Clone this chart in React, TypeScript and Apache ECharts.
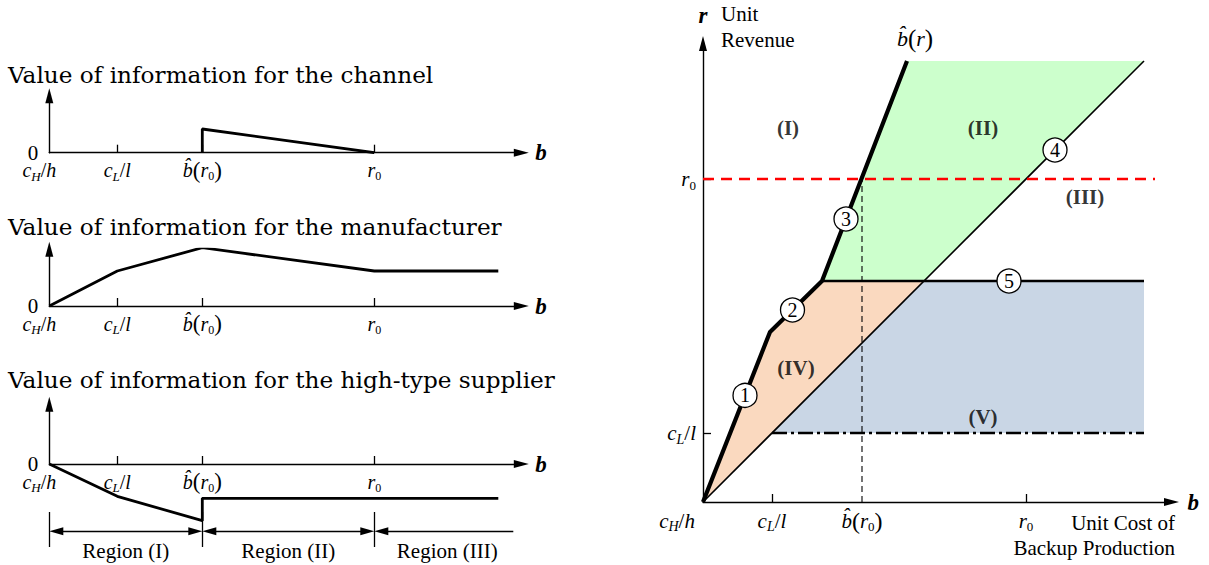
import React, { useEffect, useRef } from "react";
import * as echarts from "echarts";

const SERIF = "'Liberation Serif', 'Times New Roman', serif";
const TITLE_SERIF = "'DejaVu Serif', serif";

// ---------- shared label markup ----------
const CH_H = "{i|c}{s|H}{n|/}{i|h}";
const CL_L = "{i|c}{s|L}{n|/}{i|l}";
const BHAT_R0 = "{i|b\u0302}{p|(}{i|r}{z|0}{p|)}";
const R_0 = "{i|r}{z|0}";
const BHAT_R = "{i|b\u0302}{p|(}{i|r}{p|)}";

// ---------- left panels ----------
const PANEL_TITLES = [
  "Value of information for the channel",
  "Value of information for the manufacturer",
  "Value of information for the high-type supplier",
];
const LEFT_TICK_VALUES = [0, 6.8, 15.3, 32.5];
const LEFT_TICK_MARKS = [6.8, 15.3, 32.5];
const LEFT_TICK_LABELS = [CH_H, CL_L, BHAT_R0, R_0];
const CHANNEL_VALUE = [[15.3, 0], [15.3, 2.37], [32.5, 0]];
const MANUFACTURER_VALUE = [[0, 0], [6.8, 3.5], [15.3, 5.83], [32.5, 3.5], [44.9, 3.5]];
const SUPPLIER_VALUE = [[0, 0], [6.8, -3.23], [15.3, -5.67], [15.3, -3.43], [44.9, -3.43]];
const REGION_NAMES = ["Region (I)", "Region (II)", "Region (III)"];
const REGION_BOUNDS = [[0, 15.3], [15.3, 32.5], [32.5, 46.4]];
const REGION_BAR_X = [0, 15.3, 32.5];

// ---------- right panel ----------
const RIGHT_X_TICKS = [0, 6.9, 15.9, 32.3];
const RIGHT_X_TICK_MARKS = [6.9, 32.3];
const RIGHT_X_LABELS = [CH_H, CL_L, BHAT_R0, R_0];
const RIGHT_Y_TICKS = [6.9, 32.3];
const RIGHT_Y_LABELS = [CL_L, R_0];
const BHAT_CURVE = [[0, 0], [6.7, 17.0], [11.9, 22.1], [20.4, 44.1]];
const DIAGONAL = [[0, 0], [44.1, 44.1]];
const LINE_5 = [[11.9, 22.1], [44.1, 22.1]];
const CL_LINE = [[6.9, 6.9], [44.1, 6.9]];
const R0_LINE = [[0, 32.3], [45.2, 32.3]];
const BHAT_R0_DROP = [[15.9, 0], [15.9, 32.3]];
const REGION_II_POLY = [[11.9, 22.1], [20.4, 44.1], [44.1, 44.1], [22.1, 22.1]];
const REGION_IV_POLY = [[0, 0], [6.7, 17.0], [11.9, 22.1], [22.1, 22.1]];
const REGION_V_POLY = [[6.9, 6.9], [22.1, 22.1], [44.1, 22.1], [44.1, 6.9]];
const MARKER_LABELS = ["1", "2", "3", "4", "5"];
const MARKER_POINTS = [[4.2, 10.66], [8.95, 19.2], [14.3, 28.3], [35.2, 35.2], [30.6, 22.1]];
const AREA_LABELS = ["(I)", "(II)", "(III)", "(IV)", "(V)"];
const AREA_LABEL_POINTS = [[8.5, 37.4], [28.0, 37.4], [38.2, 30.5], [9.3, 13.4], [28.0, 8.5]];

function makeRich(fs: number, gap: number) {
  return {
    i: { fontFamily: SERIF, fontStyle: "italic", fontSize: fs, lineHeight: 25, color: "#000" },
    n: { fontFamily: SERIF, fontSize: fs, lineHeight: 25, color: "#000" },
    p: { fontFamily: SERIF, fontSize: fs + 3, lineHeight: 25, color: "#000" },
    s: { fontFamily: SERIF, fontStyle: "italic", fontSize: Math.round(fs * 0.65), lineHeight: 13, padding: [12, 0, 0, 0], color: "#000" },
    z: { fontFamily: SERIF, fontSize: Math.round(fs * 0.6), lineHeight: 13, padding: [12, 0, 0, 0], color: "#000" },
    gap: { width: gap, fontSize: fs, lineHeight: 25 },
  };
}

function tickFormatter(ticks: number[], labels: string[], padFirst: boolean) {
  return (v: number) => {
    const idx = ticks.findIndex((t) => Math.abs(t - v) < 1e-6);
    if (idx < 0) return "";
    return idx === 0 && padFirst ? labels[idx] + "{gap| }" : labels[idx];
  };
}

function polygonSeries(points: number[][], color: string) {
  return {
    type: "custom",
    xAxisIndex: 3,
    yAxisIndex: 3,
    coordinateSystem: "cartesian2d",
    silent: true,
    z: 1,
    data: points,
    renderItem: (params: any, api: any) => {
      if (params.dataIndex !== 0) return null;
      const pts = points.map((p) => api.coord(p));
      return { type: "polygon", shape: { points: pts }, style: { fill: color, stroke: null } };
    },
  };
}

const AXIS_LINE = { color: "#000", width: 1.4 };
const BOLD_B = { fontFamily: SERIF, fontStyle: "italic", fontWeight: "bold", fontSize: 23, color: "#000", verticalAlign: "middle" };

function leftXAxis(gridIndex: number) {
  return {
    type: "value",
    gridIndex,
    min: 0,
    max: 47.2,
    name: "b",
    nameLocation: "end",
    nameGap: 14,
    nameTextStyle: BOLD_B,
    axisLine: { show: true, onZero: false, symbol: ["none", "triangle"], symbolSize: [8, 15], lineStyle: AXIS_LINE },
    axisTick: { show: true, inside: true, length: 8, lineStyle: { color: "#000", width: 1.3 }, customValues: LEFT_TICK_MARKS },
    axisLabel: {
      show: true,
      margin: 5,
      customValues: LEFT_TICK_VALUES,
      formatter: tickFormatter(LEFT_TICK_VALUES, LEFT_TICK_LABELS, true),
      rich: makeRich(20, 20),
    },
    splitLine: { show: false },
  };
}

function leftYAxis(gridIndex: number, max: number) {
  return {
    type: "value",
    gridIndex,
    min: 0,
    max,
    axisLine: { show: true, onZero: false, symbol: ["none", "triangle"], symbolSize: [8, 15], lineStyle: AXIS_LINE },
    axisTick: { show: false },
    axisLabel: {
      show: true,
      margin: 11,
      customValues: [0],
      formatter: () => "0",
      fontFamily: SERIF,
      fontSize: 21,
      color: "#000",
      padding: [0, 0, 6, 0],
    },
    splitLine: { show: false },
  };
}

function App() {
  const ref = useRef<HTMLDivElement>(null);
  useEffect(() => {
    if (!ref.current) return;
    const chart = echarts.init(ref.current, null, { renderer: "svg" });
    const option: any = {
      animation: false,
      backgroundColor: "#fff",
      grid: [
        { left: 49.3, top: 95.8, width: 472, height: 56.9, outerBoundsMode: "none", containLabel: false },
        { left: 49.3, top: 249.2, width: 472, height: 56.8, outerBoundsMode: "none", containLabel: false },
        { left: 49.3, top: 404.2, width: 472, height: 59.8, outerBoundsMode: "none", containLabel: false },
        { left: 703, top: 43.5, width: 468.5, height: 458.5, outerBoundsMode: "none", containLabel: false },
        { left: 49.3, top: 464, width: 472, height: 86, outerBoundsMode: "none", containLabel: false },
      ],
      xAxis: [
        leftXAxis(0),
        leftXAxis(1),
        leftXAxis(2),
        {
          type: "value",
          gridIndex: 3,
          min: 0,
          max: 46.85,
          name: "b",
          nameLocation: "end",
          nameGap: 16,
          nameTextStyle: BOLD_B,
          axisLine: { show: true, onZero: false, symbol: ["none", "triangle"], symbolSize: [8, 15], lineStyle: AXIS_LINE },
          axisTick: { show: true, inside: true, length: 8, lineStyle: { color: "#000", width: 1.3 }, customValues: RIGHT_X_TICK_MARKS },
          axisLabel: {
            show: true,
            margin: 6,
            customValues: RIGHT_X_TICKS,
            formatter: tickFormatter(RIGHT_X_TICKS, RIGHT_X_LABELS, true),
            rich: makeRich(21, 52),
          },
          splitLine: { show: false },
        },
        { type: "value", gridIndex: 4, min: 0, max: 47.2, show: false, splitLine: { show: false } },
      ],
      yAxis: [
        leftYAxis(0, 5.69),
        leftYAxis(1, 5.68),
        leftYAxis(2, 5.98),
        {
          type: "value",
          gridIndex: 3,
          min: 0,
          max: 45.85,
          name: "r",
          nameLocation: "end",
          nameGap: 28,
          nameTextStyle: { ...BOLD_B, align: "center" },
          axisLine: { show: true, onZero: false, symbol: ["none", "triangle"], symbolSize: [8, 15], lineStyle: AXIS_LINE },
          axisTick: { show: true, inside: true, length: 8, lineStyle: { color: "#000", width: 1.3 }, customValues: RIGHT_Y_TICKS },
          axisLabel: {
            show: true,
            margin: 7,
            customValues: RIGHT_Y_TICKS,
            formatter: tickFormatter(RIGHT_Y_TICKS, RIGHT_Y_LABELS, false),
            rich: makeRich(21, 0),
          },
          splitLine: { show: false },
        },
        { type: "value", gridIndex: 4, min: -8.6, max: 0, show: false, splitLine: { show: false } },
      ],
      series: [
        {
          type: "line",
          xAxisIndex: 0,
          yAxisIndex: 0,
          data: CHANNEL_VALUE,
          symbol: "none",
          lineStyle: { color: "#000", width: 2.8 },
          silent: true,
        },
        {
          type: "line",
          xAxisIndex: 1,
          yAxisIndex: 1,
          data: MANUFACTURER_VALUE,
          symbol: "none",
          lineStyle: { color: "#000", width: 2.8 },
          silent: true,
        },
        {
          type: "line",
          xAxisIndex: 2,
          yAxisIndex: 2,
          data: SUPPLIER_VALUE,
          symbol: "none",
          clip: false,
          lineStyle: { color: "#000", width: 2.8 },
          silent: true,
        },
        {
          type: "scatter",
          xAxisIndex: 4,
          yAxisIndex: 4,
          data: [[0, -6.73]],
          symbolSize: 0,
          silent: true,
          markLine: {
            silent: true,
            symbol: ["triangle", "triangle"],
            symbolSize: [8, 14],
            lineStyle: { color: "#000", width: 1.3, type: "solid" },
            label: {
              show: true,
              position: "insideMiddleBottom",
              distance: 9,
              formatter: "{b}",
              fontFamily: SERIF,
              fontSize: 21,
              color: "#000",
            },
            data: [
              ...REGION_BOUNDS.map((b, i) => {
                const last = i === REGION_BOUNDS.length - 1;
                return [
                  { name: REGION_NAMES[i], coord: [b[0] + 0.7, -6.73] },
                  last ? { coord: [b[1], -6.73], symbol: "none" } : { coord: [b[1] - 0.7, -6.73] },
                ];
              }),
              ...REGION_BAR_X.map((x) => [
                { name: "", coord: [x, -4.8], symbol: "none" },
                { coord: [x, -8.3], symbol: "none" },
              ]),
            ],
          },
        },
        polygonSeries(REGION_II_POLY, "#ccffcc"),
        polygonSeries(REGION_IV_POLY, "#fad9bf"),
        polygonSeries(REGION_V_POLY, "#c9d6e5"),
        {
          type: "line",
          xAxisIndex: 3,
          yAxisIndex: 3,
          data: DIAGONAL,
          symbol: "none",
          lineStyle: { color: "#000", width: 1.6 },
          silent: true,
          z: 3,
        },
        {
          type: "line",
          xAxisIndex: 3,
          yAxisIndex: 3,
          data: LINE_5,
          symbol: "none",
          lineStyle: { color: "#000", width: 2.3 },
          silent: true,
          z: 3,
        },
        {
          type: "line",
          xAxisIndex: 3,
          yAxisIndex: 3,
          data: CL_LINE,
          symbol: "none",
          lineStyle: { color: "#000", width: 2.3, type: [15, 4, 3, 4] },
          silent: true,
          z: 3,
        },
        {
          type: "line",
          xAxisIndex: 3,
          yAxisIndex: 3,
          data: R0_LINE,
          symbol: "none",
          clip: false,
          lineStyle: { color: "#ff0000", width: 2.6, type: [11, 7] },
          silent: true,
          z: 4,
        },
        {
          type: "line",
          xAxisIndex: 3,
          yAxisIndex: 3,
          data: BHAT_R0_DROP,
          symbol: "none",
          lineStyle: { color: "#000", width: 1.1, type: [6, 4] },
          silent: true,
          z: 3,
        },
        {
          type: "line",
          xAxisIndex: 3,
          yAxisIndex: 3,
          data: BHAT_CURVE,
          symbol: "none",
          lineStyle: { color: "#000", width: 4.2 },
          silent: true,
          z: 5,
        },
        {
          type: "scatter",
          xAxisIndex: 3,
          yAxisIndex: 3,
          data: MARKER_POINTS,
          symbol: "circle",
          symbolSize: 24,
          itemStyle: { color: "#fff", borderColor: "#000", borderWidth: 1.3, opacity: 1 },
          label: {
            show: true,
            position: "inside",
            formatter: (p: any) => MARKER_LABELS[p.dataIndex],
            fontFamily: SERIF,
            fontSize: 20,
            color: "#000",
          },
          silent: true,
          z: 6,
        },
        {
          type: "scatter",
          xAxisIndex: 3,
          yAxisIndex: 3,
          data: AREA_LABEL_POINTS,
          symbolSize: 0,
          label: {
            show: true,
            position: "inside",
            formatter: (p: any) => AREA_LABELS[p.dataIndex],
            fontFamily: SERIF,
            fontWeight: "bold",
            fontSize: 21,
            color: "#000",
          },
          silent: true,
          z: 6,
        },
      ],
      graphic: [
        ...PANEL_TITLES.map((t, i) => ({
          type: "text",
          x: 8,
          y: [75, 227, 380][i],
          scaleX: 1.078,
          style: { text: t, font: `21.5px ${TITLE_SERIF}`, fill: "#000", verticalAlign: "middle" },
        })),
        {
          type: "text",
          x: 721,
          y: 1,
          style: { text: "Unit\nRevenue", fontFamily: SERIF, fontSize: 21, lineHeight: 26, fill: "#000" },
        },
        {
          type: "text",
          x: 1175,
          y: 510,
          style: { text: "Unit Cost of\nBackup Production", fontFamily: SERIF, fontSize: 21, lineHeight: 25, fill: "#000", align: "right" },
        },
        {
          type: "text",
          x: 915,
          y: 38,
          style: { text: BHAT_R, rich: makeRich(22, 0), align: "center", verticalAlign: "middle" },
        },
      ],
    };
    chart.setOption(option);
    return () => chart.dispose();
  }, []);
  return (
    <div
      ref={ref}
      style={{ position: "fixed", left: 0, top: 0, width: "1209px", height: "565px", background: "#fff" }}
    />
  );
}

export default App;
